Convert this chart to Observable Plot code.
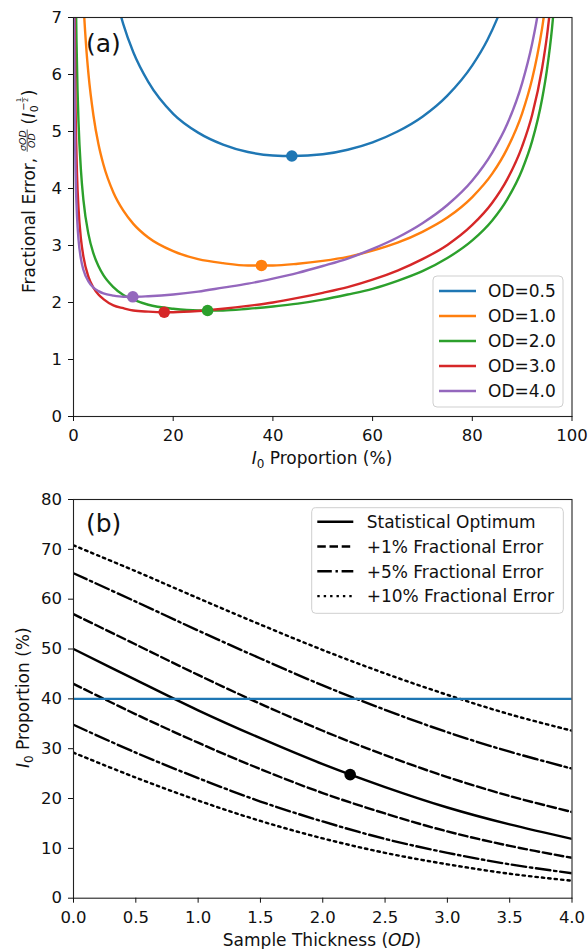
<!DOCTYPE html>
<html><head><meta charset="utf-8">
<script src="https://cdn.jsdelivr.net/npm/d3@7"></script>
<script src="https://cdn.jsdelivr.net/npm/@observablehq/plot@0.6"></script>
<style>
body{margin:0;background:#fff;}
#chart svg{display:block;}
</style></head><body><div id="chart"></div>
<script>
// ---------- Panel (a) data ----------
const odLabels = ["OD=0.5", "OD=1.0", "OD=2.0", "OD=3.0", "OD=4.0"];
const odColors = ["#1f77b4", "#ff7f0e", "#2ca02c", "#d62728", "#9467bd"];

const pOD05 = [8, 9, 10, 12, 15, 20, 25, 30, 35, 40, 44, 50, 55, 60, 65, 70, 75, 80, 83, 85, 87];
const eOD05 = [7.56, 7.19, 6.88, 6.39, 5.87, 5.31, 4.98, 4.77, 4.64, 4.58, 4.57, 4.60, 4.68, 4.81, 5.00, 5.26, 5.63, 6.16, 6.60, 6.98, 7.44];

const pOD10 = [1.5, 2, 2.5, 3, 4, 5, 6, 8, 10, 12, 15, 20, 25, 30, 35, 37.7, 40, 45, 50, 55, 60, 65, 70, 75, 80, 84, 87, 90, 92, 93, 94, 95];
const eOD10 = [8.33, 7.26, 6.54, 6.01, 5.28, 4.78, 4.42, 3.93, 3.61, 3.38, 3.14, 2.90, 2.76, 2.69, 2.65, 2.65, 2.65, 2.68, 2.73, 2.80, 2.91, 3.05, 3.24, 3.49, 3.85, 4.26, 4.70, 5.32, 5.92, 6.32, 6.81, 7.44];

const pOD20 = [0.4, 0.5, 0.6, 0.8, 1, 1.5, 2, 3, 4, 5, 6, 8, 10, 12, 15, 20, 25, 27, 30, 35, 40, 45, 50, 55, 60, 65, 70, 75, 80, 84, 87, 90, 92, 94, 95, 96, 97];
const eOD20 = [8.02, 7.20, 6.60, 5.75, 5.18, 4.31, 3.79, 3.20, 2.86, 2.64, 2.48, 2.27, 2.13, 2.05, 1.96, 1.89, 1.86, 1.86, 1.86, 1.89, 1.93, 1.98, 2.05, 2.14, 2.24, 2.38, 2.55, 2.78, 3.09, 3.44, 3.81, 4.33, 4.83, 5.57, 6.10, 6.82, 7.86];

const pOD30 = [0.2, 0.25, 0.3, 0.4, 0.5, 0.7, 1, 1.5, 2, 3, 4, 5, 6, 8, 10, 12, 15, 18, 20, 25, 30, 35, 40, 45, 50, 55, 60, 65, 70, 75, 80, 84, 87, 90, 92, 94, 95, 96];
const eOD30 = [7.60, 6.83, 6.27, 5.48, 4.95, 4.26, 3.66, 3.11, 2.80, 2.45, 2.26, 2.14, 2.06, 1.95, 1.90, 1.86, 1.84, 1.83, 1.83, 1.85, 1.89, 1.94, 2.00, 2.08, 2.17, 2.27, 2.40, 2.56, 2.76, 3.01, 3.36, 3.75, 4.16, 4.74, 5.29, 6.11, 6.69, 7.48];

const pOD40 = [0.1, 0.13, 0.15, 0.2, 0.3, 0.4, 0.5, 0.7, 1, 1.5, 2, 3, 4, 5, 6, 8, 10, 12, 15, 20, 25, 30, 35, 40, 45, 50, 55, 60, 65, 70, 75, 80, 84, 87, 90, 92, 93, 94];
const eOD40 = [8.12, 7.18, 6.71, 5.89, 4.93, 4.36, 3.99, 3.52, 3.11, 2.76, 2.57, 2.37, 2.26, 2.20, 2.16, 2.12, 2.10, 2.10, 2.11, 2.14, 2.19, 2.26, 2.33, 2.42, 2.52, 2.64, 2.77, 2.94, 3.14, 3.39, 3.71, 4.14, 4.63, 5.13, 5.85, 6.54, 6.99, 7.55];

const minP = [43.8, 37.7, 26.9, 18.2, 11.9];
const minE = [4.57, 2.65, 1.86, 1.83, 2.10];

const topXTicks = [0, 20, 40, 60, 80, 100];
const topYTicks = [0, 1, 2, 3, 4, 5, 6, 7];

// ---------- Panel (b) data ----------
const odGrid = [0, 0.5, 1.0, 1.5, 2.0, 2.5, 3.0, 3.5, 4.0];
const optimum    = [50.0, 43.8, 37.7, 32.1, 26.9, 22.3, 18.2, 14.8, 11.9];
const plus1Upper = [57.0, 50.9, 44.8, 39.0, 33.6, 28.7, 24.3, 20.5, 17.3];
const plus1Lower = [43.0, 36.9, 31.2, 25.9, 21.1, 17.0, 13.4, 10.5, 8.1];
const plus5Upper = [65.2, 59.5, 53.7, 48.1, 42.7, 37.8, 33.3, 29.4, 26.0];
const plus5Lower = [34.8, 29.2, 24.1, 19.4, 15.4, 11.9, 9.1, 6.8, 5.0];
const plus10Upper = [70.8, 65.6, 60.2, 54.9, 49.8, 45.1, 40.8, 36.9, 33.6];
const plus10Lower = [29.2, 24.2, 19.6, 15.5, 12.0, 9.1, 6.8, 4.9, 3.5];
const markerOD = [2.22];
const markerP = [24.8];
const refLevel = [40];
const legendB = ["Statistical Optimum", "+1% Fractional Error", "+5% Fractional Error", "+10% Fractional Error"];
const botXTicks = [0, 0.5, 1, 1.5, 2, 2.5, 3, 3.5, 4];
const botYTicks = [0, 10, 20, 30, 40, 50, 60, 70, 80];

// ---------- build ----------
const W = 588;
const FONT = "'DejaVu Sans', sans-serif";
const LW = 2.4;
const dashes = [null, "8.5,3.7", "14.5,3.7,2.4,3.7", "2.4,4"];

const topP = [pOD05, pOD10, pOD20, pOD30, pOD40];
const topE = [eOD05, eOD10, eOD20, eOD30, eOD40];
const topData = odLabels.flatMap((s, k) => topP[k].map((p, i) => ({series: s, p, e: topE[k][i]})));
const minData = odLabels.map((s, k) => ({series: s, p: minP[k], e: minE[k]}));

const axisStyle = {tickSize: 5, fontSize: 16.5, label: null};

const topPlot = Plot.plot({
  width: W, height: 470, marginLeft: 73, marginRight: 16.5, marginTop: 17, marginBottom: 54,
  style: {fontFamily: FONT, fontSize: "16.5px", color: "#111", background: "#fff", overflow: "visible"},
  x: {domain: [0, 100]},
  y: {domain: [0, 7]},
  color: {domain: odLabels, range: odColors},
  marks: [
    Plot.line(topData, {x: "p", y: "e", z: "series", stroke: "series", strokeWidth: LW, curve: "monotone-x", clip: true}),
    Plot.dot(minData, {x: "p", y: "e", fill: "series", r: 5.8}),
    Plot.frame({stroke: "#222", strokeWidth: 1.1}),
    Plot.axisX({...axisStyle, ticks: topXTicks, tickFormat: d3.format("d"), tickPadding: 8}),
    Plot.axisY({...axisStyle, ticks: topYTicks, tickFormat: d3.format("d"), tickPadding: 6.5})
  ]
});

const botSeries = [
  {vals: optimum, dash: 0}, {vals: plus1Upper, dash: 1}, {vals: plus1Lower, dash: 1},
  {vals: plus5Upper, dash: 2}, {vals: plus5Lower, dash: 2},
  {vals: plus10Upper, dash: 3}, {vals: plus10Lower, dash: 3}
];

const botPlot = Plot.plot({
  width: W, height: 479, marginLeft: 73, marginRight: 16.5, marginTop: 29, marginBottom: 51.3,
  style: {fontFamily: FONT, fontSize: "16.5px", color: "#111", background: "#fff", overflow: "visible"},
  x: {domain: [0, 4]},
  y: {domain: [0, 80]},
  marks: [
    ...botSeries.map(s => Plot.line(s.vals.map((v, i) => ({od: odGrid[i], v})), {
      x: "od", y: "v", stroke: "#000", strokeWidth: LW, strokeDasharray: dashes[s.dash], curve: "catmull-rom", clip: true
    })),
    Plot.ruleY(refLevel, {stroke: "#1f77b4", strokeWidth: LW}),
    Plot.dot(markerOD.map((o, i) => ({od: o, v: markerP[i]})), {x: "od", y: "v", fill: "#000", r: 5.8}),
    Plot.frame({stroke: "#222", strokeWidth: 1.1}),
    Plot.axisX({...axisStyle, ticks: botXTicks, tickFormat: d3.format(".1f"), tickPadding: 8}),
    Plot.axisY({...axisStyle, ticks: botYTicks, tickFormat: d3.format("d"), tickPadding: 6.5})
  ]
});

const chart = document.getElementById("chart");
chart.appendChild(topPlot);
chart.appendChild(botPlot);

// ---------- annotations ----------
const NS = "http://www.w3.org/2000/svg";
function mk(tag, attrs, parent, txt) {
  const el = document.createElementNS(NS, tag);
  for (const k in attrs) el.setAttribute(k, attrs[k]);
  if (txt != null) el.textContent = txt;
  parent.appendChild(el);
  return el;
}
function tspans(textEl, parts) {
  for (const p of parts) mk("tspan", p.attrs || {}, textEl, p.t);
}
const base = {fill: "#111", "font-family": FONT, "text-anchor": "start"};

// panel letters
mk("text", {...base, x: 86, y: 51.7, "font-size": 25}, topPlot, "(a)");
mk("text", {...base, x: 86, y: 62.4, "font-size": 25}, botPlot, "(b)");

// x labels
{
  const t = mk("text", {...base, x: 322, y: 464, "font-size": 17, "text-anchor": "middle"}, topPlot);
  tspans(t, [
    {t: "I", attrs: {"font-style": "italic"}},
    {t: "0", attrs: {"font-size": 12, dy: 3.5}},
    {t: "\u00a0Proportion (%)", attrs: {dy: -3.5}}
  ]);
  const b = mk("text", {...base, x: 322, y: 475.7, "font-size": 17, "text-anchor": "middle"}, botPlot);
  tspans(b, [
    {t: "Sample Thickness ("},
    {t: "OD", attrs: {"font-style": "italic"}},
    {t: ")"}
  ]);
}

// bottom y label
{
  const g = mk("g", {transform: "translate(29,298) rotate(-90)"}, botPlot);
  const t = mk("text", {...base, x: 0, y: 0, "font-size": 17}, g);
  tspans(t, [
    {t: "I", attrs: {"font-style": "italic"}},
    {t: "0", attrs: {"font-size": 12, dy: 3.5}},
    {t: "\u00a0Proportion (%)", attrs: {dy: -3.5}}
  ]);
}

// top y label with fraction
{
  const g = mk("g", {transform: "translate(34.5,293) rotate(-90)", fill: "#111", "font-family": FONT, "text-anchor": "start"}, topPlot);
  let cx = 0;
  function piece(str, size, italic, y) {
    return mk("text", {x: cx, y: y, "font-size": size, "font-style": italic ? "italic" : "normal", "text-anchor": "start"}, g, str);
  }
  const t1 = piece("Fractional Error,", 17, false, 0);
  cx += t1.getComputedTextLength() + 6;
  const num = piece("\u03c3OD", 9.5, true, -8.8);
  const den = piece("OD", 9.5, true, 0.5);
  const fw = Math.max(num.getComputedTextLength(), den.getComputedTextLength()) + 1.5;
  num.setAttribute("x", cx + (fw - num.getComputedTextLength()) / 2);
  den.setAttribute("x", cx + (fw - den.getComputedTextLength()) / 2);
  mk("line", {x1: cx, x2: cx + fw, y1: -7.3, y2: -7.3, stroke: "#111", "stroke-width": 0.7}, g);
  cx += fw + 5;
  const p1 = piece("(", 17, false, 0); cx += p1.getComputedTextLength();
  const iI = piece("I", 17, true, 0); cx += iI.getComputedTextLength() + 0.5;
  const sub = piece("0", 11, false, 3.5);
  const x0 = cx + 1.5;
  const minus = mk("text", {x: x0, y: -8, "font-size": 10, "text-anchor": "start"}, g, "\u2212");
  const mw = minus.getComputedTextLength();
  const one = mk("text", {x: x0 + mw + 0.5, y: -13.5, "font-size": 6.5, "text-anchor": "start"}, g, "1");
  mk("text", {x: x0 + mw + 0.5, y: -6.2, "font-size": 6.5, "text-anchor": "start"}, g, "2");
  const ow = one.getComputedTextLength();
  mk("line", {x1: x0 + mw, x2: x0 + mw + ow + 1, y1: -12, y2: -12, stroke: "#111", "stroke-width": 0.5}, g);
  cx = Math.max(cx + sub.getComputedTextLength(), x0 + mw + ow + 1.5) + 0.5;
  piece(")", 17, false, 0);
}

// legend (a)
{
  const g = mk("g", {"font-family": FONT, "text-anchor": "start"}, topPlot);
  mk("rect", {x: 433, y: 276, width: 130, height: 131, rx: 4, fill: "#fff", "fill-opacity": 0.8, stroke: "#cfcfcf", "stroke-width": 1}, g);
  odLabels.forEach((lab, i) => {
    const y = 291 + 25 * i;
    mk("line", {x1: 439, x2: 476, y1: y, y2: y, stroke: odColors[i], "stroke-width": LW}, g);
    mk("text", {...base, x: 488, y: y + 6.2, "font-size": 17}, g, lab);
  });
}
// legend (b)
{
  const g = mk("g", {"font-family": FONT, "text-anchor": "start"}, botPlot);
  mk("rect", {x: 311.7, y: 37.7, width: 251.6, height: 105.6, rx: 4, fill: "#fff", "fill-opacity": 0.8, stroke: "#cfcfcf", "stroke-width": 1}, g);
  legendB.forEach((lab, i) => {
    const y = 51.7 + 24.8 * i;
    const attrs = {x1: 317.3, x2: 353.3, y1: y, y2: y, stroke: "#000", "stroke-width": LW};
    if (dashes[i]) attrs["stroke-dasharray"] = dashes[i];
    mk("line", attrs, g);
    mk("text", {...base, x: 366.7, y: y + 6.2, "font-size": 17}, g, lab);
  });
}
</script>
</body></html>
